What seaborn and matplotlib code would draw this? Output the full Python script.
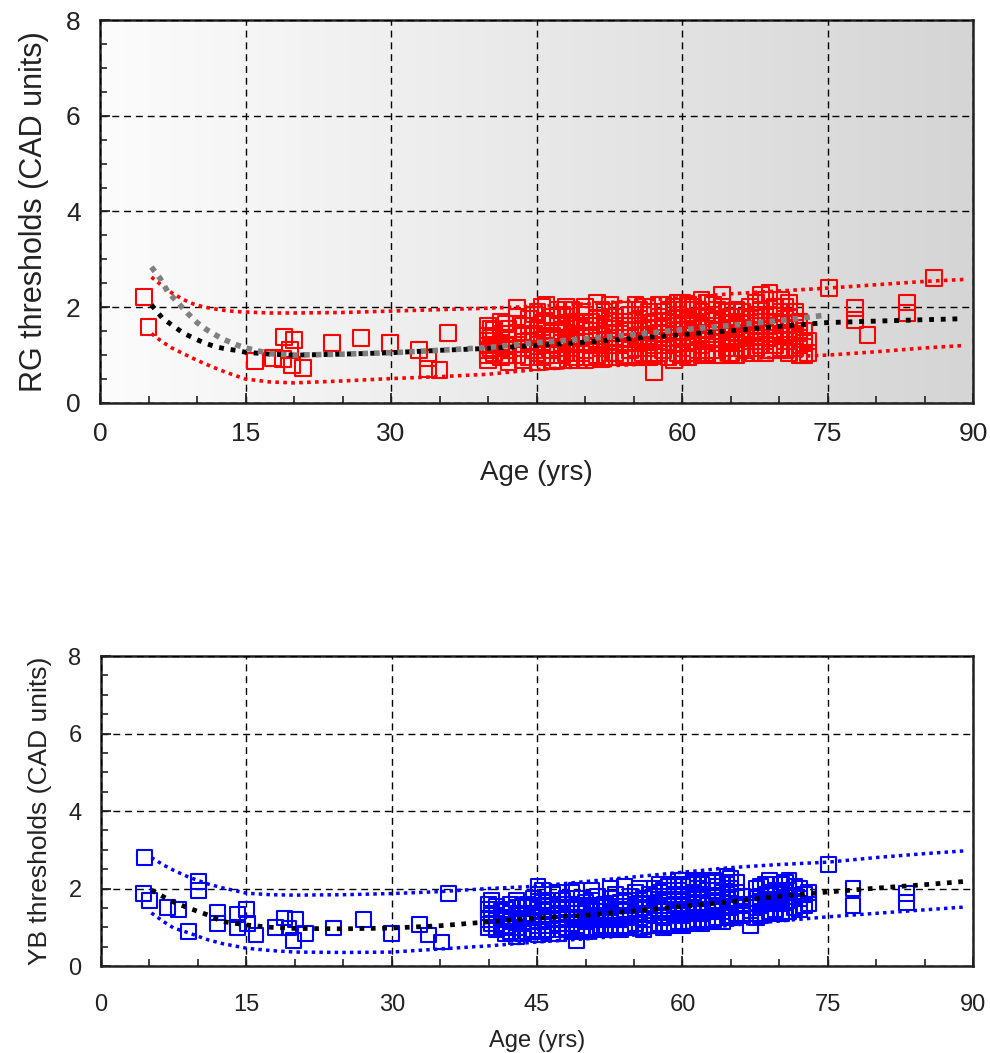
import numpy as np
import pandas as pd
import matplotlib
matplotlib.use("Agg")
import matplotlib.pyplot as plt
from matplotlib.colors import LinearSegmentedColormap
from matplotlib.ticker import MultipleLocator
import seaborn as sns

# ---------------- data ----------------
# RG (top) sparse points
rg_sparse_age = [4.5, 5.0, 16.0, 17.8, 19.0, 20.0, 18.9, 19.8, 20.9, 19.6, 23.9, 26.9, 29.9,
                 32.9, 33.8, 33.8, 35.0, 35.9, 75.1, 77.8, 77.8, 79.1, 83.2, 83.2, 86.0]
rg_sparse_thr = [2.21, 1.59, 0.88, 0.94, 1.38, 1.31, 0.92, 0.79, 0.73, 1.10, 1.25, 1.36, 1.25,
                 1.10, 0.94, 0.71, 0.69, 1.46, 2.40, 1.99, 1.73, 1.42, 2.10, 1.88, 2.61]
# RG dense cluster: ages and the thresholds observed at each age
rg_dense_age = [40.0, 40.6, 41.3, 42.1, 43.0, 44.2, 45.1, 46.0, 47.2, 48.0, 49.1, 50.0, 51.2,
                52.0, 53.1, 54.0, 55.2, 56.0, 57.1, 58.0, 59.2, 60.0, 61.1, 62.0, 63.2, 64.1,
                65.0, 66.2, 67.0, 68.1, 69.0, 70.2, 71.0, 72.1, 73.0]
rg_dense_thr = [[1.00, 1.20, 1.40, 1.62, 1.10, 0.90], [1.30, 1.52, 1.05],
                [0.95, 1.25, 1.45, 1.70, 1.15], [0.85, 1.10, 1.35, 1.55],
                [1.00, 1.22, 1.45, 1.80, 1.98], [0.95, 1.30, 1.60, 1.75],
                [0.85, 1.05, 1.40, 1.55, 1.90], [1.00, 1.20, 1.50, 1.70, 2.05],
                [0.90, 1.15, 1.35, 1.65, 1.95], [1.05, 1.30, 1.55, 1.80, 2.00],
                [0.95, 1.25, 1.45, 1.70], [0.90, 1.10, 1.40, 1.60, 1.85, 2.00],
                [1.00, 1.30, 1.50, 1.75, 2.10], [0.95, 1.20, 1.45, 1.65, 1.90],
                [1.05, 1.35, 1.55, 1.80], [1.00, 1.25, 1.50, 1.70, 1.95],
                [0.95, 1.15, 1.40, 1.60, 2.05], [1.05, 1.30, 1.55, 1.85, 2.00],
                [0.65, 1.00, 1.20, 1.45, 1.70], [1.10, 1.35, 1.60, 1.90, 2.05],
                [0.90, 1.25, 1.50, 1.75, 2.00], [1.00, 1.15, 1.40, 1.65, 1.95, 2.10],
                [1.05, 1.30, 1.55, 1.80, 2.00], [1.00, 1.20, 1.45, 1.70, 1.90, 2.15],
                [1.10, 1.35, 1.60, 1.85, 2.05], [1.00, 1.25, 1.50, 1.75, 2.00, 2.25],
                [1.05, 1.30, 1.55, 1.80], [1.15, 1.40, 1.65, 1.90],
                [1.05, 1.30, 1.50, 1.75, 2.00], [1.20, 1.45, 1.70, 1.95, 2.25],
                [1.10, 1.35, 1.60, 1.85, 2.30], [1.15, 1.40, 1.65, 1.90, 2.15],
                [1.05, 1.30, 1.55, 1.80, 2.10], [1.00, 1.20, 1.45, 1.70],
                [1.05, 1.30]]
rg_mid_age = [40.3, 41.8, 43.6, 44.7, 45.6, 46.6, 47.6, 48.6, 49.6, 50.6, 51.6, 52.6, 53.6,
              54.6, 55.6, 56.6, 57.6, 58.6, 59.6, 60.6, 61.6, 62.6, 63.6, 64.6, 65.6, 66.6,
              67.6, 68.6, 69.6, 70.6, 71.6, 72.6]
rg_mid_thr = [[1.15, 1.35, 1.55], [1.00, 1.20, 1.65], [0.90, 1.15, 1.40, 1.60],
              [1.10, 1.45, 1.85], [0.95, 1.25, 1.65, 2.00], [0.88, 1.10, 1.40, 1.80],
              [1.00, 1.25, 1.50, 1.85], [0.90, 1.15, 1.40, 1.65, 1.95],
              [1.05, 1.35, 1.60, 1.90], [0.95, 1.20, 1.50, 1.70], [0.92, 1.15, 1.40, 1.95],
              [1.05, 1.30, 1.55, 1.80, 2.05], [0.95, 1.20, 1.45, 1.70, 1.95],
              [1.10, 1.35, 1.60, 1.85], [1.00, 1.25, 1.50, 1.75, 1.95],
              [0.95, 1.15, 1.40, 1.65, 1.90], [1.05, 1.30, 1.55, 1.80, 2.05],
              [0.95, 1.20, 1.45, 1.70, 1.95], [1.05, 1.35, 1.60, 1.85, 2.10],
              [0.95, 1.25, 1.50, 1.75, 2.05], [1.10, 1.40, 1.65, 1.95],
              [1.05, 1.30, 1.55, 1.80, 2.10], [1.00, 1.25, 1.50, 1.75, 1.95],
              [1.15, 1.40, 1.65, 1.90], [1.00, 1.25, 1.45, 1.70, 1.95],
              [1.10, 1.35, 1.55, 1.80], [1.15, 1.40, 1.60, 1.85, 2.10],
              [1.05, 1.30, 1.55, 1.80, 2.15], [1.20, 1.45, 1.70, 2.00],
              [1.10, 1.30, 1.55, 1.75, 2.00], [1.15, 1.40, 1.65, 1.90], [1.00, 1.25, 1.50]]

# RG curves
rg_curve_age = [5.3, 6.4, 7.4, 8.6, 9.6, 10.8, 12.0, 13.0, 14.0, 15.0, 17.5, 20, 25, 30, 35,
                40, 45, 50, 55, 60, 65, 70, 75, 80, 85, 89]
rg_mean = [2.05, 1.78, 1.63, 1.46, 1.36, 1.25, 1.17, 1.13, 1.10, 1.06, 1.02, 1.00, 1.02, 1.05,
           1.10, 1.14, 1.20, 1.27, 1.35, 1.43, 1.51, 1.60, 1.68, 1.71, 1.74, 1.76]
rg_upper = [2.63, 2.45, 2.30, 2.16, 2.07, 2.00, 1.96, 1.93, 1.91, 1.90, 1.88, 1.88, 1.89, 1.92,
            1.95, 1.98, 2.02, 2.07, 2.13, 2.20, 2.28, 2.34, 2.40, 2.47, 2.54, 2.58]
rg_lower = [1.45, 1.28, 1.15, 1.03, 0.93, 0.82, 0.72, 0.64, 0.57, 0.50, 0.44, 0.42, 0.46, 0.51,
            0.55, 0.60, 0.70, 0.76, 0.80, 0.86, 0.91, 0.96, 1.00, 1.07, 1.15, 1.20]
rg_alt_age = [5.3, 6.2, 7.0, 8.0, 9.0, 10.0, 11.0, 12.5, 14.0, 15.0, 17.5, 20, 25, 30, 35, 40,
              45, 50, 55, 60, 65, 70, 75]
rg_alt = [2.84, 2.60, 2.32, 2.10, 1.88, 1.68, 1.53, 1.35, 1.22, 1.15, 1.03, 1.00, 1.02, 1.05,
          1.10, 1.16, 1.26, 1.34, 1.43, 1.53, 1.62, 1.72, 1.84]

# YB (bottom) sparse points
yb_sparse_age = [4.5, 4.4, 5.0, 6.9, 8.0, 9.0, 10.1, 10.1, 12.0, 12.0, 14.1, 14.1, 15.0, 15.1,
                 16.0, 18.0, 18.9, 20.1, 19.9, 19.4, 21.1, 24.0, 27.1, 30.0, 32.9, 33.8, 35.1,
                 35.9, 75.1, 77.6, 77.6, 83.1, 83.1]
yb_sparse_thr = [2.79, 1.88, 1.70, 1.52, 1.45, 0.90, 2.17, 1.96, 1.39, 1.10, 1.32, 1.00, 1.45,
                 1.10, 0.80, 1.00, 1.24, 1.19, 0.67, 0.98, 0.85, 0.98, 1.19, 0.85, 1.06, 0.80,
                 0.62, 1.88, 2.63, 2.00, 1.57, 1.88, 1.63]
yb_dense_age = [40.0, 40.8, 41.7, 42.9, 44.0, 45.1, 46.0, 47.2, 48.0, 49.1, 50.0, 51.2, 52.0,
                53.1, 54.0, 55.2, 56.0, 57.1, 58.0, 59.2, 60.0, 61.1, 62.0, 63.2, 64.1, 65.0,
                66.2, 67.0, 68.1, 69.0, 70.2, 71.0, 72.1, 73.0]
yb_dense_thr = [[1.00, 1.20, 1.45, 1.60], [0.95, 1.10, 1.30, 1.55], [0.85, 1.05, 1.25, 1.45],
                [0.75, 1.00, 1.20, 1.50, 1.70], [0.90, 1.15, 1.35, 1.60],
                [0.80, 1.05, 1.30, 1.55, 1.85, 2.05], [0.95, 1.20, 1.45, 1.70],
                [0.85, 1.10, 1.35, 1.60, 1.90], [1.00, 1.25, 1.50, 1.75],
                [0.65, 0.95, 1.20, 1.45, 1.95], [0.90, 1.15, 1.40, 1.65],
                [1.00, 1.25, 1.50, 1.80], [0.95, 1.20, 1.40, 1.60], [1.05, 1.30, 1.55, 1.85],
                [1.00, 1.25, 1.45, 1.70, 2.05], [1.10, 1.35, 1.60, 1.90],
                [0.95, 1.20, 1.50, 1.75], [1.05, 1.30, 1.55, 1.80, 2.00],
                [1.00, 1.25, 1.45, 1.70, 1.95], [1.10, 1.35, 1.60, 1.85, 2.10],
                [1.05, 1.30, 1.55, 1.80, 2.05, 2.20], [1.15, 1.40, 1.65, 1.90, 2.15],
                [1.10, 1.35, 1.60, 1.85, 2.10], [1.20, 1.45, 1.70, 1.95, 2.20],
                [1.15, 1.40, 1.65, 1.90, 2.15], [1.25, 1.50, 1.75, 2.00, 2.25],
                [1.30, 1.55, 1.80], [1.05, 1.35, 1.60], [1.30, 1.55, 1.80, 2.05],
                [1.40, 1.65, 1.90, 2.20], [1.35, 1.60, 1.85, 2.10], [1.40, 1.70, 1.95, 2.20],
                [1.45, 1.75, 2.00], [1.60, 1.90]]
yb_mid_age = [40.3, 41.3, 42.3, 43.5, 44.6, 45.6, 46.6, 47.6, 48.6, 49.6, 50.6, 51.6, 52.6,
              53.6, 54.6, 55.6, 56.6, 57.6, 58.6, 59.6, 60.6, 61.6, 62.6, 63.6, 64.6, 65.6,
              67.6, 68.6, 69.6, 70.6, 71.6, 72.6]
yb_mid_thr = [[1.10, 1.35, 1.70], [1.00, 1.20, 1.40], [0.90, 1.15, 1.35, 1.60],
              [0.85, 1.10, 1.30, 1.55], [0.95, 1.25, 1.50, 1.75],
              [0.90, 1.15, 1.40, 1.65, 1.95], [0.85, 1.05, 1.30, 1.55, 1.85],
              [0.95, 1.20, 1.45, 1.70], [0.90, 1.10, 1.35, 1.60, 1.90],
              [1.00, 1.25, 1.50, 1.75], [0.95, 1.20, 1.45, 1.70, 1.95], [1.05, 1.30, 1.55],
              [1.00, 1.25, 1.50, 1.75, 2.00], [0.95, 1.20, 1.40, 1.65],
              [1.05, 1.30, 1.55, 1.80], [1.00, 1.25, 1.45, 1.70, 2.00],
              [1.05, 1.35, 1.60, 1.85], [1.10, 1.40, 1.65, 1.90, 2.10],
              [1.05, 1.30, 1.55, 1.80, 2.05], [1.15, 1.40, 1.70, 1.95, 2.20],
              [1.10, 1.35, 1.60, 1.85, 2.10], [1.20, 1.45, 1.75, 2.00, 2.20],
              [1.15, 1.40, 1.65, 1.95, 2.15], [1.25, 1.50, 1.80, 2.05],
              [1.30, 1.55, 1.85, 2.10, 2.30], [1.35, 1.60, 1.90, 2.15],
              [1.25, 1.50, 1.75, 2.00], [1.35, 1.60, 1.85, 2.10], [1.45, 1.70, 1.95],
              [1.40, 1.65, 1.90, 2.15], [1.50, 1.80, 2.05], [1.55, 1.85]]

yb_curve_age = [5.2, 6.5, 7.5, 9.0, 11.0, 12.5, 15.0, 17.5, 20, 25, 30, 35, 40, 45, 50, 55,
                60, 65, 70, 75, 80, 85, 89]
yb_mean = [1.96, 1.78, 1.65, 1.50, 1.32, 1.15, 1.06, 1.00, 0.97, 0.96, 0.98, 1.04, 1.14, 1.24,
           1.31, 1.42, 1.54, 1.66, 1.80, 1.91, 2.01, 2.10, 2.18]
yb_upper = [2.80, 2.60, 2.47, 2.30, 2.12, 2.02, 1.88, 1.84, 1.83, 1.84, 1.87, 1.92, 2.00, 2.06,
            2.18, 2.30, 2.42, 2.54, 2.62, 2.68, 2.80, 2.90, 2.97]
yb_lower = [1.37, 1.14, 0.98, 0.86, 0.68, 0.58, 0.46, 0.40, 0.36, 0.35, 0.36, 0.44, 0.52, 0.62,
            0.70, 0.80, 0.93, 1.05, 1.16, 1.27, 1.36, 1.45, 1.52]

x_ticks = [0, 15, 30, 45, 60, 75, 90]
y_ticks = [0, 2, 4, 6, 8]


def expand(ages, groups):
    a, v = [], []
    for age, vals in zip(ages, groups):
        for val in vals:
            a.append(age)
            v.append(val)
    return a, v


rg_da, rg_dv = expand(rg_dense_age + rg_mid_age, rg_dense_thr + rg_mid_thr)
yb_da, yb_dv = expand(yb_dense_age + yb_mid_age, yb_dense_thr + yb_mid_thr)
rg_df = pd.DataFrame({"age": rg_sparse_age + rg_da, "thr": rg_sparse_thr + rg_dv})
yb_df = pd.DataFrame({"age": yb_sparse_age + yb_da, "thr": yb_sparse_thr + yb_dv})

# ---------------- style ----------------
sns.set_style("white")
plt.rcParams["font.family"] = ["Liberation Sans", "DejaVu Sans"]
TXT = "#222222"

fig = plt.figure(figsize=(9.9, 10.53), dpi=100)
ax1 = fig.add_axes([0.101, 0.6173, 0.882, 0.3637])
ax2 = fig.add_axes([0.102, 0.0826, 0.881, 0.2944])


def style_axes(ax, tick_fs, ylabel, ylab_fs, xlab_fs):
    ax.set_xlim(0, 90)
    ax.set_ylim(0, 8)
    ax.set_xticks(x_ticks)
    ax.set_yticks(y_ticks)
    ax.xaxis.set_minor_locator(MultipleLocator(5))
    ax.yaxis.set_minor_locator(MultipleLocator(0.5))
    ax.tick_params(axis="both", which="major", direction="in", length=7, width=1.3,
                   color="#222222", labelsize=tick_fs, labelcolor=TXT, pad=14)
    ax.tick_params(axis="both", which="minor", direction="in", length=5, width=1.2,
                   color="#222222")
    ax.tick_params(axis="x", which="both", top=False, bottom=True)
    ax.tick_params(axis="y", which="both", right=False, left=True)
    ax.grid(True, which="major", color="black", linestyle=(0, (5, 3.5)), linewidth=1.0)
    ax.set_axisbelow(False)
    for s in ax.spines.values():
        s.set_visible(True)
        s.set_color("#222222")
        s.set_linewidth(1.8)
    ax.set_xlabel("Age (yrs)", fontsize=xlab_fs, color=TXT, labelpad=10)
    ax.set_ylabel(ylabel, fontsize=ylab_fs, color=TXT, labelpad=12)


# ---- top panel ----
grad = np.linspace(0, 1, 256).reshape(1, -1)
cmap = LinearSegmentedColormap.from_list("bg", ["#fcfcfc", "#d5d5d5"])
ax1.imshow(grad, cmap=cmap, extent=[0, 90, 0, 8], aspect="auto", zorder=0,
           interpolation="bicubic")

sns.scatterplot(data=rg_df, x="age", y="thr", marker="s", s=130, facecolors="none",
                edgecolor="#ff0000", linewidth=1.5, ax=ax1, zorder=3, legend=False)
sns.lineplot(x=rg_curve_age, y=rg_upper, color="#ff0000", linewidth=2.6,
             linestyle=(0, (1, 1.2)), ax=ax1, zorder=4)
sns.lineplot(x=rg_curve_age, y=rg_lower, color="#ff0000", linewidth=2.6,
             linestyle=(0, (1, 1.2)), ax=ax1, zorder=4)
sns.lineplot(x=rg_curve_age, y=rg_mean, color="black", linewidth=3.5,
             linestyle=(0, (1, 1.4)), ax=ax1, zorder=5)
sns.lineplot(x=rg_alt_age, y=rg_alt, color="#808080", linewidth=4.0,
             linestyle=(0, (1, 1.1)), ax=ax1, zorder=6)
style_axes(ax1, 19, "RG thresholds (CAD units)", 22, 20)

# ---- bottom panel ----
ax2.set_facecolor("white")
sns.scatterplot(data=yb_df, x="age", y="thr", marker="s", s=115, facecolors="none",
                edgecolor="#0000ff", linewidth=1.5, ax=ax2, zorder=3, legend=False)
sns.lineplot(x=yb_curve_age, y=yb_upper, color="#0000ff", linewidth=2.5,
             linestyle=(0, (1, 1.2)), ax=ax2, zorder=4)
sns.lineplot(x=yb_curve_age, y=yb_lower, color="#0000ff", linewidth=2.5,
             linestyle=(0, (1, 1.2)), ax=ax2, zorder=4)
sns.lineplot(x=yb_curve_age, y=yb_mean, color="black", linewidth=3.4,
             linestyle=(0, (1, 1.4)), ax=ax2, zorder=5)
style_axes(ax2, 17, "YB thresholds (CAD units)", 19, 17)
ax2.tick_params(axis="x", which="major", pad=20)

fig.savefig("out.png", dpi=100)
